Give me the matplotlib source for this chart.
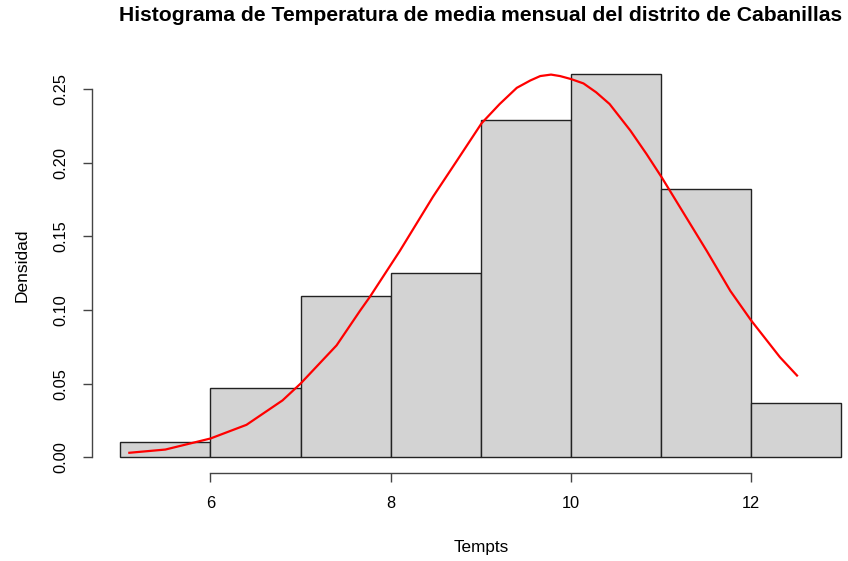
import numpy as np
import matplotlib.pyplot as plt

plt.rcParams['font.family'] = ['Liberation Sans', 'DejaVu Sans']

# Histograma (densidad por intervalo de 1 grado)
breaks = [5, 6, 7, 8, 9, 10, 11, 12, 13]
densidad = [0.0104, 0.0469, 0.1094, 0.1250, 0.2292, 0.2604, 0.1823, 0.0365]

# Curva roja
curva_x = [5.1, 5.5, 6.0, 6.4, 6.8, 7.0, 7.4, 7.66, 7.77, 8.1, 8.47, 8.73,
           9.01, 9.21, 9.40, 9.55, 9.66, 9.78, 9.88, 10.0, 10.14, 10.28,
           10.43, 10.66, 10.84, 11.01, 11.21, 11.36, 11.51, 11.77, 12.0,
           12.32, 12.51]
curva_y = [0.003, 0.0052, 0.0127, 0.0220, 0.0386, 0.050, 0.076, 0.0995, 0.109,
           0.140, 0.177, 0.201, 0.227, 0.240, 0.251, 0.256, 0.259, 0.260,
           0.259, 0.257, 0.254, 0.248, 0.240, 0.222, 0.206, 0.190, 0.170,
           0.155, 0.140, 0.113, 0.093, 0.068, 0.0555]

W, H = 848, 561
fig = plt.figure(figsize=(W / 100, H / 100), dpi=100)
left, right, top, bottom = 91.5, 870.0, 58.7, 472.5
ax = fig.add_axes([left / W, 1 - bottom / H, (right - left) / W, (bottom - top) / H])

ancho = np.diff(breaks)
ax.bar(breaks[:-1], densidad, width=ancho, align='edge', color='#d3d3d3',
       edgecolor='#222222', linewidth=1.0)
ax.plot(curva_x, curva_y, color='red', lw=1.6)

ax.set_xlim(4.68, 13.32)
ax.set_ylim(-0.0104, 0.2708)

for s in ['top', 'right']:
    ax.spines[s].set_visible(False)
ax.spines['bottom'].set_bounds(6, 12)
ax.spines['left'].set_bounds(0, 0.25)
for s in ['bottom', 'left']:
    ax.spines[s].set_color('#444444')
    ax.spines[s].set_linewidth(1.0)

ax.set_xticks([6, 8, 10, 12])
ax.set_yticks([0.0, 0.05, 0.10, 0.15, 0.20, 0.25])
ax.set_yticklabels(['0.00', '0.05', '0.10', '0.15', '0.20', '0.25'],
                   rotation=90, va='center')
ax.tick_params(direction='out', length=6.8, width=1.0, color='#444444',
               labelsize=11.8, pad=10)

ax.set_xlabel('Tempts', fontsize=12.3, labelpad=21)
ax.set_ylabel('Densidad', fontsize=12.5, labelpad=17)
ax.set_title('Histograma de Temperatura de media mensual del distrito de Cabanillas',
             fontsize=15.2, fontweight='bold', pad=27)

fig.savefig('out.png', dpi=100)
